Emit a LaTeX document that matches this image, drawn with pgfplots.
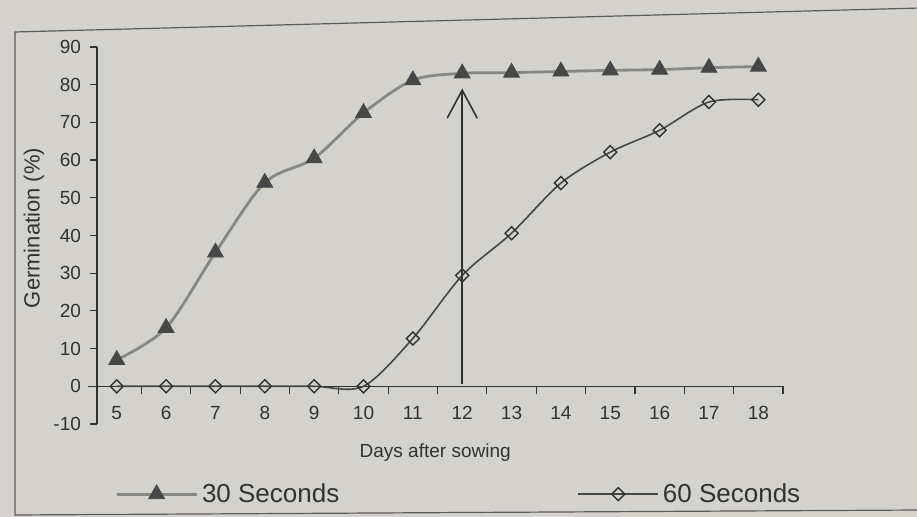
\documentclass[border=0pt]{standalone}
\usepackage{pgfplots}
\pgfplotsset{compat=1.18}
\usepackage{fontspec}
\setmainfont{Liberation Sans}
\usetikzlibrary{arrows.meta}
\definecolor{paper}{RGB}{212,210,204}
\definecolor{ink}{RGB}{50,50,50}
\definecolor{lineA}{RGB}{135,135,132}
\definecolor{lineB}{RGB}{70,70,70}
\begin{document}
\begin{tikzpicture}
\path[use as bounding box, fill=paper] (-48.5pt,-46.5pt) rectangle (410pt,212pt);
\draw[ink!80, line width=0.6pt] (412pt,208pt) -- (-41pt,196pt) -- (-41pt,-45.5pt) -- (412pt,-43pt);
\begin{axis}[
  scale only axis,
  width=343pt, height=188.5pt,
  xmin=4.6, xmax=18.5,
  ymin=-10, ymax=90,
  axis y line*=left,
  axis x line*=middle,
  axis line style={ink, line width=0.6pt},
  xtick={5,...,18},
  minor xtick={4.6,5.5,6.5,7.5,8.5,9.5,10.5,11.5,12.5,13.5,14.5,15.5,16.5,17.5,18.5},
  major x tick style={draw=none},
  minor tick length=4pt,
  ytick={-10,0,...,90},
  major tick length=3.5pt,
  tick align=outside,
  tick style={ink, line width=0.6pt},
  every tick label/.append style={font=\fontsize{9.5}{11}\selectfont, text=ink},
  xticklabel style={yshift=-3pt},
  yticklabel style={xshift=-1pt},
  /pgf/number format/assume math mode=true,
  clip=false,
  legend columns=2,
  legend style={draw=none, fill=none, at={(axis description cs:0.026,-0.186)}, anchor=west,
    inner sep=0pt, font=\fontsize{13}{15}\selectfont, text=ink,
    /tikz/every even column/.append style={column sep=117pt}},
  legend image code/.code={\draw[mark repeat=2,mark phase=2,#1] plot coordinates {(0pt,0pt) (20pt,0pt) (40pt,0pt)};},
]
\addplot[lineA, line width=1.4pt, smooth, mark=triangle*, mark size=4.6pt,
  mark options={fill=ink!90, draw=ink!90, line width=0.4pt}] coordinates {
(5,7) (6,15.5) (7,35.5) (8,54) (9,60.5) (10,72.5) (11,81.2) (12,83) (13,83.2) (14,83.5) (15,83.8) (16,84) (17,84.5) (18,84.8)};
\addlegendentry{30 Seconds}
\addplot[lineB, line width=0.8pt, smooth, mark=square, mark size=2.3pt,
  mark options={rotate=45, fill=paper, draw=ink, line width=0.7pt}] coordinates {
(5,0) (6,0) (7,0) (8,0) (9,0) (10,0) (11,12.7) (12,29.4) (13,40.6) (14,53.9) (15,62.1) (16,67.9) (17,75.4) (18,76)};
\addlegendentry{60 Seconds}
\draw[ink, line width=0.6pt] (axis cs:4.6,0) -- ++(-4.5pt,0pt);
\draw[ink, line width=0.8pt, -{Straight Barb[length=14pt,width=15pt]}] (axis cs:12,0.5) -- (axis cs:12,79);
\node[font=\fontsize{11}{13}\selectfont, text=ink, rotate=90] at (axis description cs:-0.092,0.52) {Germination (\%)};
\node[font=\fontsize{9.5}{11}\selectfont, text=ink] at (axis description cs:0.493,-0.077) {Days after sowing};
\end{axis}
\end{tikzpicture}
\end{document}
